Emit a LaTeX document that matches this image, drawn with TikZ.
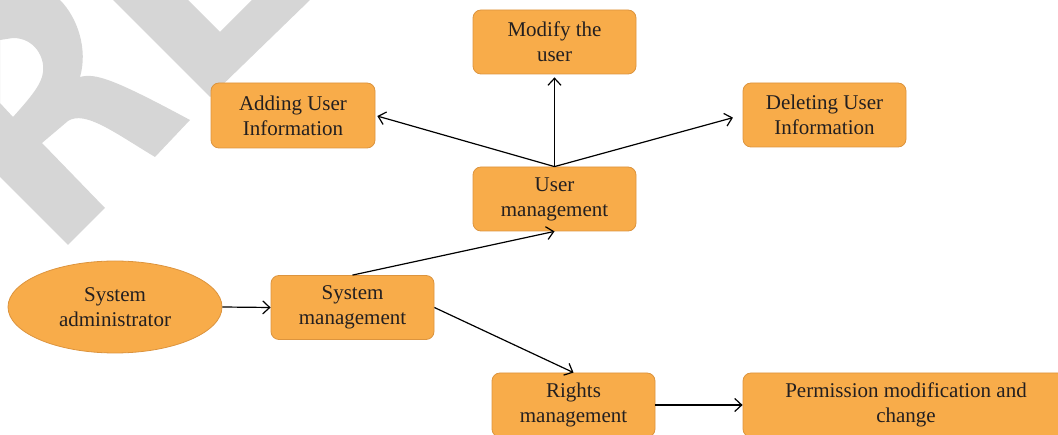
\documentclass[tikz,border=0pt]{standalone}
\usepackage{fontspec}
\setmainfont{Liberation Serif}
\usetikzlibrary{arrows.meta,shapes.geometric}
\definecolor{boxfill}{RGB}{248,172,74}
\definecolor{boxdraw}{RGB}{220,148,62}
\definecolor{txt}{RGB}{35,31,32}
\definecolor{wm}{RGB}{214,214,214}
\tikzset{
  box/.style={draw=boxdraw, fill=boxfill, line width=0.8pt, rounded corners=8pt,
    minimum width=163pt, minimum height=64pt, align=center, text=txt, inner sep=0pt,
    font=\fontsize{21}{25}\selectfont},
  oval/.style={box, ellipse, rounded corners=0pt},
  conn/.style={draw=black, line width=1.2pt, -{Straight Barb[length=7pt,width=13pt,line width=1.2pt]}}
}
\begin{document}
\begin{tikzpicture}[x=1pt,y=-1pt]
\useasboundingbox (0,0) rectangle (1058,435);
% watermark
\fill[wm] (113,0) -- (188,0) -- (220,32) -- (252,0) -- (310,0) -- (210,97) -- cycle;
\fill[wm, even odd rule] (0,0) -- (60,0) .. controls (78,18) and (88,50) .. (80,77)
  .. controls (95,73) and (112,78) .. (190,120) -- (155,157)
  .. controls (115,133) and (85,110) .. (68,121) -- (42,143) -- (105,208) -- (68,245) -- (0,177) -- cycle
  (0,40) -- (13,38) .. controls (35,38) and (45,58) .. (43,72) .. controls (42,84) and (30,98) .. (13,117) -- (0,103) -- cycle;
% nodes
\node[oval, minimum width=214pt, minimum height=92pt] (admin) at (115,307) {System\\administrator};
\node[box] (sysm) at (352.5,307.5) {System\\management};
\node[box] (userm) at (554.5,199) {User\\management};
\node[box] (modify) at (554.5,42) {Modify the\\user};
\node[box, minimum width=164pt, minimum height=65pt] (adding) at (293,115.5) {Adding User\\Information};
\node[box] (deleting) at (824.5,115) {Deleting User\\Information};
\node[box] (rights) at (573.5,405) {Rights\\management};
\node[box, minimum width=326pt] (perm) at (906,405) {Permission modification and\\change};
% connectors
\draw[conn] (admin.east) -- (sysm.west);
\draw[conn] (sysm.north) -- (userm.south);
\draw[conn] (sysm.east) -- (rights.north);
\draw[conn, shorten >=3pt] (userm.north) -- (modify.south);
\draw[conn, shorten >=2pt] (userm.north) -- (adding.east);
\draw[conn, shorten >=10pt] (userm.north) -- (deleting.west);
\draw[conn] (rights.east) -- (perm.west);
\end{tikzpicture}
\end{document}
